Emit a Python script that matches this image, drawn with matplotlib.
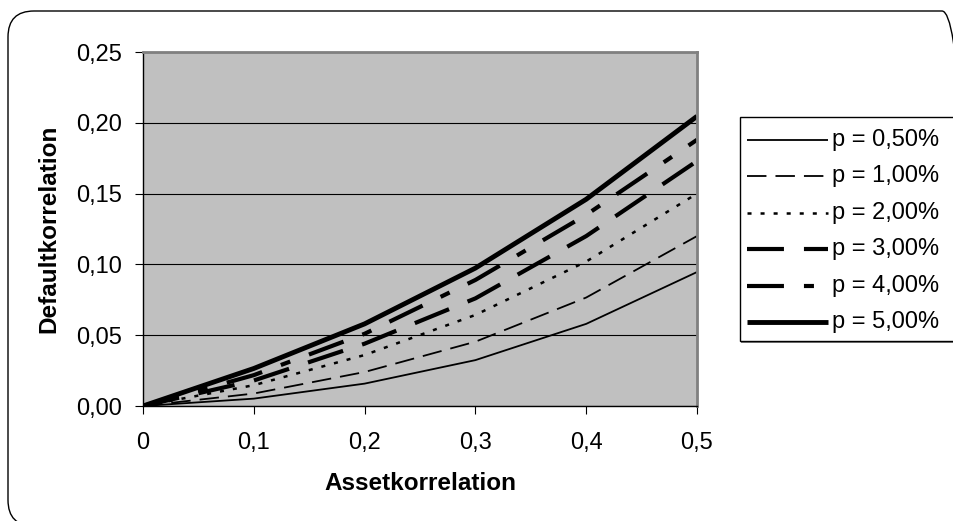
import matplotlib
matplotlib.use("Agg")
import matplotlib.pyplot as plt
from matplotlib.patches import FancyBboxPatch, Rectangle
from matplotlib.lines import Line2D
from matplotlib.transforms import IdentityTransform

plt.rcParams["font.family"] = ["Liberation Sans", "DejaVu Sans"]
plt.rcParams["lines.scale_dashes"] = False

# asset correlation (x) and default correlation per default probability p
asset_corr = [0.0, 0.1, 0.2, 0.3, 0.4, 0.5]
labels = ["p = 0,50%", "p = 1,00%", "p = 2,00%", "p = 3,00%", "p = 4,00%", "p = 5,00%"]
p_050 = [0.0, 0.0052, 0.0158, 0.0324, 0.0580, 0.0946]
p_100 = [0.0, 0.0088, 0.0240, 0.0454, 0.0766, 0.1200]
p_200 = [0.0, 0.0147, 0.0360, 0.0643, 0.1020, 0.1500]
p_300 = [0.0, 0.0180, 0.0440, 0.0760, 0.1200, 0.1730]
p_400 = [0.0, 0.0218, 0.0510, 0.0890, 0.1350, 0.1880]
p_500 = [0.0, 0.0265, 0.0580, 0.0974, 0.1460, 0.2046]
series = [p_050, p_100, p_200, p_300, p_400, p_500]

# line widths (pt) and dash patterns (pt); None = solid
widths = [1.3, 1.3, 1.8, 3.0, 3.0, 3.5]
dashes = [None, (14, 6.5), (2.9, 6.5), (26.6, 14.4), (26.6, 14.4, 7.2, 14.4), None]

W, H = 954, 521
fig = plt.figure(figsize=(W / 100, H / 100), dpi=100)
fig.patch.set_facecolor("white")

# rounded chart frame, running off the right/bottom edge
frame = FancyBboxPatch((8, -5), 960, 515, boxstyle="round,pad=0,rounding_size=26",
                       transform=IdentityTransform(), facecolor="none",
                       edgecolor="black", lw=1.0)
fig.add_artist(frame)

L, R, T, B = 143, 697, 52, 406
ax = fig.add_axes([L / W, 1 - B / H, (R - L) / W, (B - T) / H])
ax.set_facecolor("#C0C0C0")

for ys, lw, d in zip(series, widths, dashes):
    ln, = ax.plot(asset_corr, ys, color="black", lw=lw, solid_capstyle="butt",
                  dash_capstyle="butt", solid_joinstyle="miter")
    if d is not None:
        ln.set_dashes(d)

ax.set_xlim(0, 0.5)
ax.set_ylim(0, 0.25)
ax.set_xticks(asset_corr)
ax.set_xticklabels(["0", "0,1", "0,2", "0,3", "0,4", "0,5"])
yt = [0.0, 0.05, 0.10, 0.15, 0.20, 0.25]
ax.set_yticks(yt)
ax.set_yticklabels([f"{v:.2f}".replace(".", ",") for v in yt])
ax.tick_params(labelsize=17, length=6, width=0.8, color="black")
ax.tick_params(axis="y", pad=9)
ax.tick_params(axis="x", pad=13)
ax.grid(axis="y", color="black", lw=0.8)
ax.set_axisbelow(True)
for s in ("left", "bottom"):
    ax.spines[s].set_color("black")
    ax.spines[s].set_linewidth(1.0)
for s in ("top", "right"):
    ax.spines[s].set_color("#808080")
    ax.spines[s].set_linewidth(2.0)

fig.text(49 / W, 1 - 229 / H, "Defaultkorrelation", rotation=90, ha="center",
         va="center", fontsize=17.5, fontweight="bold")
fig.text(420 / W, 1 - 483 / H, "Assetkorrelation", ha="center", va="center",
         fontsize=17.5, fontweight="bold")

# legend box with shadow edge at the bottom
fig.add_artist(Rectangle((741, H - 343), 230, 2, transform=IdentityTransform(),
                         facecolor="#808080", edgecolor="none"))
fig.add_artist(Rectangle((740, H - 341), 230, 224, transform=IdentityTransform(),
                         facecolor="white", edgecolor="black", lw=1.0))
for i, (lab, lw, d) in enumerate(zip(labels, widths, dashes)):
    y = H - (140 + 36.4 * i)
    h = Line2D([747, 828], [y, y], transform=IdentityTransform(), color="black",
               lw=lw, solid_capstyle="butt", dash_capstyle="butt")
    if d is not None:
        h.set_dashes(d)
    fig.add_artist(h)
    fig.text(832 / W, y / H, lab, ha="left", va="center", fontsize=17)

fig.savefig("out.png", dpi=100)
